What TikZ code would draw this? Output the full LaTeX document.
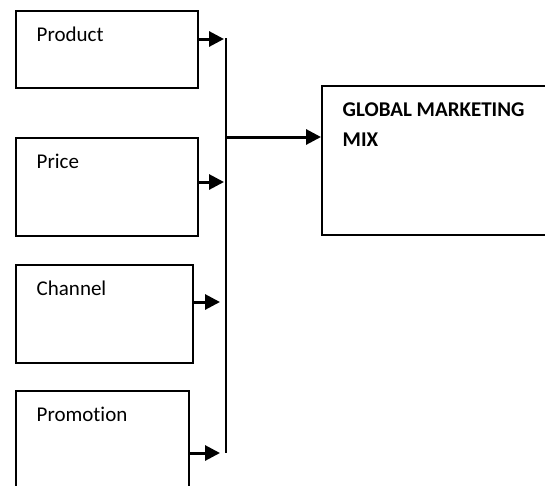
\documentclass[tikz,border=0pt]{standalone}
\usepackage{fontspec}
\setmainfont{Carlito}[Ligatures=NoCommon]
\usetikzlibrary{arrows.meta}
\tikzset{
	mixbox/.style={shape=rectangle, draw, line width=2pt, anchor=north west, inner sep=0pt},
	mixlbl/.style={anchor=base west, inner sep=0pt, xshift=21.5pt, yshift=-31.5pt, font=\fontsize{21}{24}\selectfont},
	feed/.style={line width=3pt, -{Triangle[length=15pt, width=15pt]}},
}
\begin{document}
\begin{tikzpicture}[x=1pt, y=-1pt]
	% Frame and boxes:
	\clip (0, 0) rectangle (545, 485);
	\node[mixbox, minimum width=182pt, minimum height=77pt, label={[mixlbl]north west:Product}] (prod) at (15, 10){};
	\node[mixbox, minimum width=182pt, minimum height=98pt, label={[mixlbl]north west:Price}] (price) at (15, 137){};
	\node[mixbox, minimum width=177pt, minimum height=98pt, label={[mixlbl]north west:Channel}] (chan) at (15, 264){};
	\node[mixbox, minimum width=173pt, minimum height=130pt, label={[mixlbl]north west:Promotion}] (promo) at (15, 390){};
	\node[mixbox, minimum width=260pt, minimum height=149pt, label={[mixlbl, align=left, yshift=-29.5pt, font=\fontsize{21}{29.5}\selectfont\bfseries]north west:GLOBAL MARKETING\\MIX}] (mix) at (321, 85){};
	% Bus and arrows:
	\coordinate (bustop) at (226, 38);
	\coordinate (busbot) at (226, 453);
	\draw[line width=2pt] (bustop) -- (busbot);
	\draw[feed] (prod.east |- 0, 39) -- (224, 39);
	\draw[feed] (price.east |- 0, 182) -- (224, 182);
	\draw[feed] (chan.east |- 0, 302) -- (220, 302);
	\draw[feed] (promo.east |- 0, 453) -- (220, 453);
	\draw[feed] (bustop |- 0, 137) -- (mix.west |- 0, 137);
\end{tikzpicture}
\end{document}
